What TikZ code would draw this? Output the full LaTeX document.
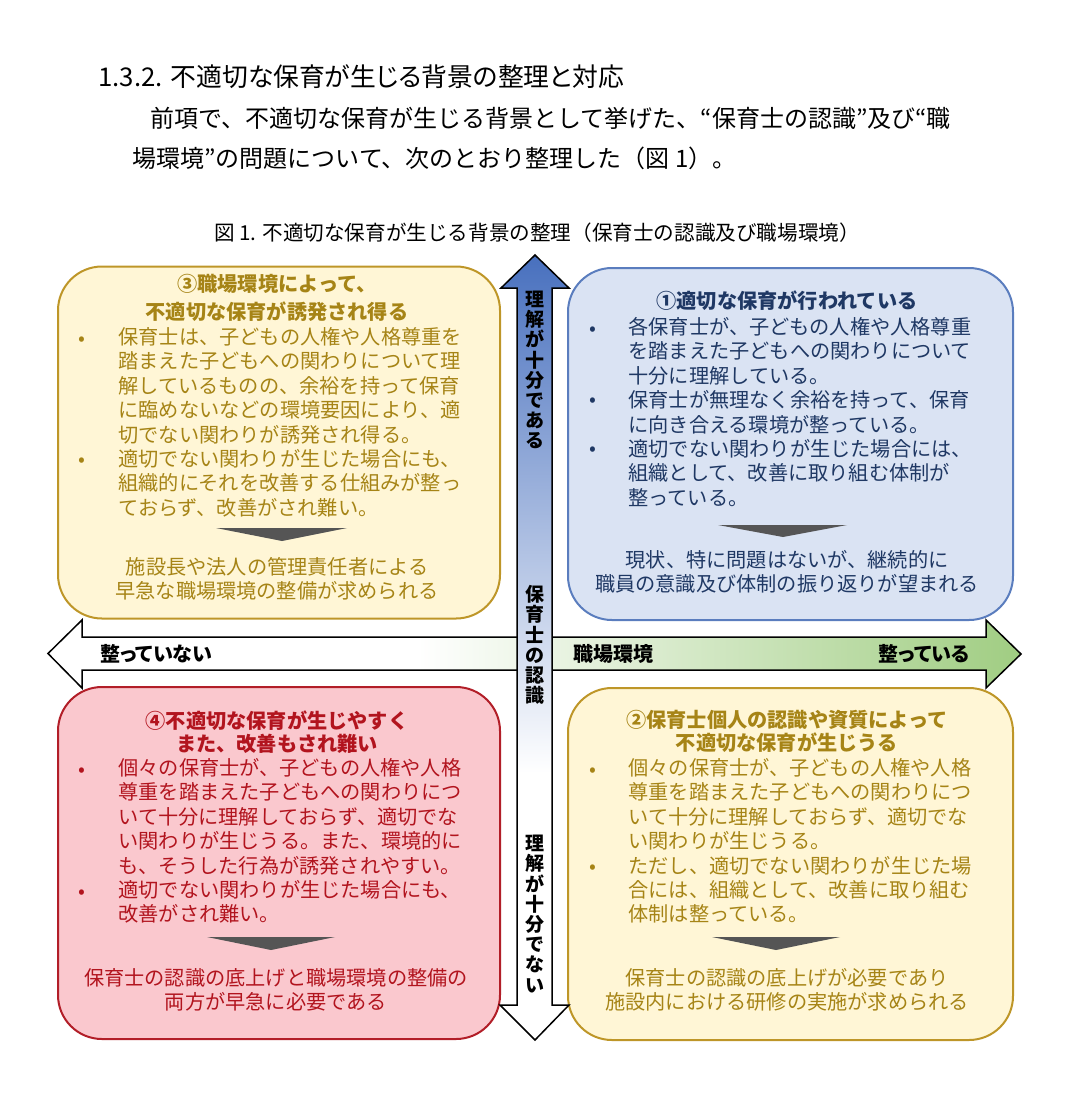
\documentclass[tikz,border=0pt]{standalone}
\usepackage{fontspec}
\setmainfont{Noto Sans CJK JP}
\newfontfamily\propfont[RawFeature=+palt]{Noto Sans CJK JP}
\usepackage{tikz}

\definecolor{goldfill}{RGB}{255,246,214}
\definecolor{goldline}{RGB}{190,150,40}
\definecolor{goldtext}{RGB}{166,132,22}
\definecolor{bluefill}{RGB}{218,227,243}
\definecolor{blueline}{RGB}{90,125,190}
\definecolor{bluetext}{RGB}{31,56,100}
\definecolor{redfill}{RGB}{250,200,206}
\definecolor{redline}{RGB}{178,30,40}
\definecolor{redtext}{RGB}{178,20,30}
\definecolor{axisblue}{RGB}{72,112,190}
\definecolor{axisgreen}{RGB}{160,205,130}
\definecolor{markgray}{RGB}{85,85,85}

\pgfdeclareverticalshading{recogshade}{100bp}{color(0bp)=(white); color(42bp)=(white); color(75bp)=(axisblue); color(100bp)=(axisblue)}
\pgfdeclarehorizontalshading{workshade}{100bp}{color(0bp)=(white); color(44bp)=(white); color(75bp)=(axisgreen); color(100bp)=(axisgreen)}

\tikzset{
  quadbox/.style={draw, line width=1pt, rounded corners=22pt, minimum width=221pt, minimum height=176pt, inner sep=0pt},
  titletxt/.style={anchor=north, align=center, inner sep=0pt, font=\fontsize{10.1}{13.8}\selectfont\bfseries},
  bodytxt/.style={anchor=north west, align=left, inner sep=0pt, font=\fontsize{10.1}{12.2}\selectfont},
  endtxt/.style={anchor=north, align=center, inner sep=0pt, font=\fontsize{10.1}{11.8}\selectfont},
  dot/.style={anchor=base, inner sep=0pt, font=\fontsize{10.1}{12.2}\selectfont},
  downmark/.style={fill=markgray},
  axislabel/.style={inner sep=0pt, font=\fontsize{9.5}{10.1}\selectfont\bfseries, align=center},
  sidelabel/.style={inner sep=0pt, font=\propfont\fontsize{10}{12}\selectfont\bfseries}
}

\begin{document}
\begin{tikzpicture}[x=0.5pt,y=-0.5pt]
	\useasboundingbox (0,0) rectangle (1080,1094);
	
	\node[anchor=base west, inner sep=0pt, font=\propfont\fontsize{12.9}{15}\selectfont] (head) at (98,86) {1.3.2. 不適切な保育が生じる背景の整理と対応};
	\node[anchor=base west, inner sep=0pt, font=\fontsize{12}{15}\selectfont] (para1) at (150,127) {前項で、不適切な保育が生じる背景として挙げた、“保育士の認識”及び“職};
	\node[anchor=base west, inner sep=0pt, font=\fontsize{12}{15}\selectfont] (para2) at (132,167) {場環境”の問題について、次のとおり整理した（図 1）。};
	\node[anchor=base, inner sep=0pt, font=\fontsize{10.3}{12}\selectfont] (caption) at (537,240) {図 1. 不適切な保育が生じる背景の整理（保育士の認識及び職場環境）};
	
	% (3) top left
	\node[quadbox, draw=goldline, fill=goldfill] (envbox) at (279,442.5) {};
	\node[titletxt, text=goldtext] (envtitle) at (277,274) {③職場環境によって、\\不適切な保育が誘発され得る};
	\node[bodytxt, text=goldtext] (envtext) at (118,327) {保育士は、子どもの人権や人格尊重を\\踏まえた子どもへの関わりについて理\\解しているものの、余裕を持って保育\\に臨めないなどの環境要因により、適\\切でない関わりが誘発され得る。\\適切でない関わりが生じた場合にも、\\組織的にそれを改善する仕組みが整っ\\ておらず、改善がされ難い。};
	\node[dot, text=goldtext] (envdot1) at (82,345) {•};
	\node[dot, text=goldtext] (envdot2) at (82,466) {•};
	\fill[downmark] (216,528) -- (347,528) -- (282,541) -- cycle;
	\node[endtxt, text=goldtext] (envend) at (277,557) {施設長や法人の管理責任者による\\早急な職場環境の整備が求められる};
	
	% (1) top right
	\node[quadbox, draw=blueline, fill=bluefill, minimum width=222.5pt] (goodbox) at (790.5,444) {};
	\node[titletxt, text=bluetext] (goodtitle) at (787,290) {①適切な保育が行われている};
	\node[bodytxt, text=bluetext] (goodtext) at (628,317) {各保育士が、子どもの人権や人格尊重\\を踏まえた子どもへの関わりについて\\十分に理解している。\\保育士が無理なく余裕を持って、保育\\に向き合える環境が整っている。\\適切でない関わりが生じた場合には、\\組織として、改善に取り組む体制が\\整っている。};
	\node[dot, text=bluetext] (gooddot1) at (593,335) {•};
	\node[dot, text=bluetext] (gooddot2) at (593,406) {•};
	\node[dot, text=bluetext] (gooddot3) at (593,455) {•};
	\fill[downmark] (718,525) -- (847,525) -- (783,537) -- cycle;
	\node[endtxt, text=bluetext] (goodend) at (787,550) {現状、特に問題はないが、継続的に\\職員の意識及び体制の振り返りが望まれる};
	
	% (4) bottom left
	\node[quadbox, draw=redline, fill=redfill] (badbox) at (279,863) {};
	\node[titletxt, text=redtext, font=\fontsize{10.1}{11.6}\selectfont\bfseries] (badtitle) at (277,710) {④不適切な保育が生じやすく\\また、改善もされ難い};
	\node[bodytxt, text=redtext] (badtext) at (118,758) {個々の保育士が、子どもの人権や人格\\尊重を踏まえた子どもへの関わりにつ\\いて十分に理解しておらず、適切でな\\い関わりが生じうる。また、環境的に\\も、そうした行為が誘発されやすい。\\適切でない関わりが生じた場合にも、\\改善がされ難い。};
	\node[dot, text=redtext] (baddot1) at (82,776) {•};
	\node[dot, text=redtext] (baddot2) at (82,898) {•};
	\fill[downmark] (207,937) -- (335,937) -- (271,950) -- cycle;
	\node[endtxt, text=redtext] (badend) at (276,968) {保育士の認識の底上げと職場環境の整備の\\両方が早急に必要である};
	
	% (2) bottom right
	\node[quadbox, draw=goldline, fill=goldfill, minimum width=222.5pt] (staffbox) at (790.5,864) {};
	\node[titletxt, text=goldtext, font=\fontsize{10.1}{11.6}\selectfont\bfseries] (stafftitle) at (787,710) {②保育士個人の認識や資質によって\\不適切な保育が生じうる};
	\node[bodytxt, text=goldtext] (stafftext) at (628,758) {個々の保育士が、子どもの人権や人格\\尊重を踏まえた子どもへの関わりにつ\\いて十分に理解しておらず、適切でな\\い関わりが生じうる。\\ただし、適切でない関わりが生じた場\\合には、組織として、改善に取り組む\\体制は整っている。};
	\node[dot, text=goldtext] (staffdot1) at (593,776) {•};
	\node[dot, text=goldtext] (staffdot2) at (593,873) {•};
	\fill[downmark] (712,937) -- (840,937) -- (776,950) -- cycle;
	\node[endtxt, text=goldtext] (staffend) at (787,968) {保育士の認識の底上げが必要であり\\施設内における研修の実施が求められる};
	
	% axes
	\path[draw=black, line width=0.75pt, shading=workshade] (48,653.5) -- (82,620) -- (82,637) -- (986,637) -- (986,620) -- (1021,654) -- (986,688) -- (986,670) -- (82,670) -- (82,688) -- cycle;
	\path[draw=black, line width=0.75pt, shading=recogshade] (535,255) -- (569,288) -- (552,288) -- (552,1005) -- (569,1005) -- (535,1040) -- (500,1005) -- (517,1005) -- (517,288) -- (501,288) -- cycle;
	
	\node[sidelabel, anchor=base west] (notready) at (100,661.5) {整っていない};
	\node[sidelabel, anchor=base west] (workplace) at (573,661.5) {職場環境};
	\node[sidelabel, anchor=base east] (ready) at (970,661.5) {整っている};
	
	\node[axislabel] (enough) at (535,370) {理\\解\\が\\十\\分\\で\\あ\\る};
	\node[axislabel] (recog) at (535,645) {保\\育\\士\\の\\認\\識};
	\node[axislabel] (notenough) at (535,914) {理\\解\\が\\十\\分\\で\\な\\い};
	
\end{tikzpicture}
\end{document}
